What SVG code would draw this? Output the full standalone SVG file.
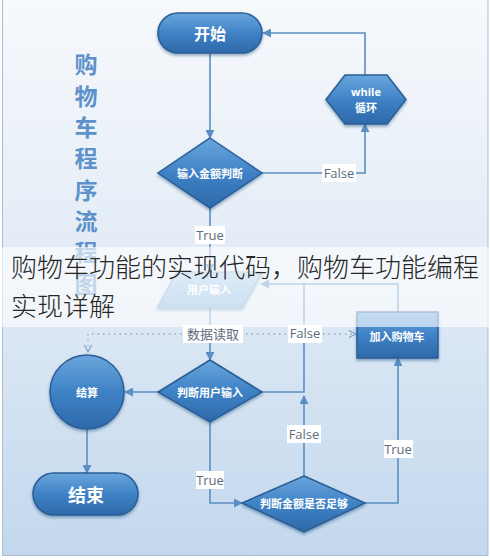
<svg xmlns="http://www.w3.org/2000/svg" width="490" height="560" viewBox="0 0 490 560">
<defs>
<linearGradient id="bg" x1="0" y1="0" x2="0" y2="1">
<stop offset="0" stop-color="#f7f9fc"/>
<stop offset="0.45" stop-color="#e3ecf6"/>
<stop offset="1" stop-color="#c3d8ee"/>
</linearGradient>
<linearGradient id="nodeFill" x1="0" y1="0" x2="0" y2="1">
<stop offset="0" stop-color="#6aa6dc"/>
<stop offset="0.5" stop-color="#3f82c6"/>
<stop offset="1" stop-color="#2d69a9"/>
</linearGradient>
<linearGradient id="paraFill" x1="0" y1="0" x2="0" y2="1">
<stop offset="0" stop-color="#a9cbea"/>
<stop offset="1" stop-color="#7aaedd"/>
</linearGradient>
<filter id="sh" x="-20%" y="-20%" width="140%" height="150%">
<feDropShadow dx="0" dy="2" stdDeviation="1.5" flood-color="#1f4a78" flood-opacity="0.45"/>
</filter>
<marker id="arr" viewBox="0 0 10 10" refX="9" refY="5" markerWidth="9" markerHeight="9" markerUnits="userSpaceOnUse" orient="auto">
<path d="M0 0 L10 5 L0 10 Z" fill="#5b8fc4"/>
</marker>
<marker id="chev" viewBox="0 0 10 10" refX="9" refY="5" markerWidth="9" markerHeight="9" markerUnits="userSpaceOnUse" orient="auto-start-reverse">
<path d="M1 1 L9 5 L1 9" fill="none" stroke="#7fa3c8" stroke-width="1.3"/>
</marker>
</defs>
<style>
.node{fill:url(#nodeFill);stroke:#2a5e96;stroke-width:1.5;filter:url(#sh)}
.ntxt{font-family:"Noto Sans CJK SC","Noto Sans",sans-serif;fill:#ffffff;text-anchor:middle;dominant-baseline:central;font-weight:bold}
.con{fill:none;stroke:#5b8fc4;stroke-width:1.6}
.dot{fill:none;stroke:#8fa9c4;stroke-width:1.3;stroke-dasharray:1.5 4}
.lbg{fill:#ffffff}
.ltxt{font-family:"Open Sans","Noto Sans CJK SC",sans-serif;font-size:13px;fill:#5c6b7a;text-anchor:middle;dominant-baseline:central}
.title{font-family:"Noto Sans CJK SC",sans-serif;font-size:23px;font-weight:bold;fill:#5c91c9;text-anchor:middle;dominant-baseline:central}
.ban{font-family:"Noto Sans CJK SC",sans-serif;font-size:26px;font-weight:300;fill:#262626}
</style>
<rect x="0" y="0" width="490" height="560" fill="#ffffff"/>
<rect x="2.5" y="-2" width="485.5" height="557.5" fill="url(#bg)" stroke="#a9bdd3" stroke-width="1"/>
<g id="title">
<text class="title" x="86" y="63">购</text>
<text class="title" x="86" y="95">物</text>
<text class="title" x="86" y="126">车</text>
<text class="title" x="86" y="157">程</text>
<text class="title" x="86" y="189">序</text>
<text class="title" x="86" y="220">流</text>
<text class="title" x="86" y="251">程</text>
<text class="title" x="86" y="283">图</text>
</g>
<g id="connectors">
<path class="con" d="M210 53 V138" marker-end="url(#arr)"/>
<path class="con" d="M262 173 H365 V124" marker-end="url(#arr)"/>
<path class="con" d="M365 75 V33 H263" marker-end="url(#arr)"/>
<path class="con" d="M210 208 V272" marker-end="url(#arr)"/>
<path class="con" d="M210 308 V360" marker-end="url(#arr)"/>
<path class="con" d="M158 392 H125" marker-end="url(#arr)"/>
<path class="con" d="M87 429 V473" marker-end="url(#arr)"/>
<path class="con" d="M210 422 V503 H242" marker-end="url(#arr)"/>
<path class="con" d="M304 476 V396" marker-end="url(#arr)"/>
<path class="con" d="M262 392 H304 V284"/>
<path class="con" d="M365 503 H398 V358" marker-end="url(#arr)"/>
<path class="con" d="M398 312 V284 H261" marker-end="url(#arr)"/>
<path class="dot" d="M88 352 V334 H356" marker-start="url(#chev)" marker-end="url(#chev)"/>
<rect class="lbg" x="322" y="164" width="34" height="18"/>
<text class="ltxt" x="339" y="173">False</text>
<rect class="lbg" x="195" y="226" width="30" height="18"/>
<text class="ltxt" x="210" y="235">True</text>
<rect class="lbg" x="183" y="325" width="60" height="18"/>
<text class="ltxt" x="213" y="334">数据读取</text>
<rect class="lbg" x="288" y="325" width="34" height="18"/>
<text class="ltxt" x="305" y="333">False</text>
<rect class="lbg" x="287" y="425" width="34" height="18"/>
<text class="ltxt" x="304" y="434">False</text>
<rect class="lbg" x="384" y="440" width="29" height="18"/>
<text class="ltxt" x="398" y="449">True</text>
<rect class="lbg" x="196" y="471" width="28" height="18"/>
<text class="ltxt" x="210" y="480">True</text>
</g>
<g id="start">
<rect class="node" x="158" y="13" width="104" height="40" rx="20"/>
<text class="ntxt" x="210" y="33" font-size="16">开始</text>
</g>
<g id="judge-amount-input">
<polygon class="node" points="210,138 262,173 210,208 158,173"/>
<text class="ntxt" x="210" y="173" font-size="11">输入金额判断</text>
</g>
<g id="while-loop">
<polygon class="node" points="345,75 387,75 406,99.5 387,124 345,124 326,99.5"/>
<text class="ntxt" x="366" y="91" font-size="11" style="font-family:'Open Sans',sans-serif">while</text>
<text class="ntxt" x="366" y="107" font-size="11">循环</text>
</g>
<g id="user-input">
<polygon points="177,272 262,272 242,308 157,308" fill="url(#paraFill)" stroke="#6f9fcf" stroke-width="1.2" filter="url(#sh)"/>
<text class="ntxt" x="209" y="289" font-size="11">用户输入</text>
</g>
<g id="judge-user-input">
<polygon class="node" points="210,360 262,392 210,422 158,392"/>
<text class="ntxt" x="210" y="392" font-size="11">判断用户输入</text>
</g>
<g id="checkout">
<circle class="node" cx="87" cy="392" r="37"/>
<text class="ntxt" x="87" y="392" font-size="11">结算</text>
</g>
<g id="end">
<rect class="node" x="33" y="473" width="105" height="42" rx="21"/>
<text class="ntxt" x="86" y="494" font-size="18">结束</text>
</g>
<g id="judge-enough">
<polygon class="node" points="304,476 365,503 304,532 242,503"/>
<text class="ntxt" x="304" y="503" font-size="11">判断金额是否足够</text>
</g>
<g id="add-cart">
<rect class="node" x="357" y="312" width="81" height="46"/>
<text class="ntxt" x="397" y="336" font-size="11">加入购物车</text>
</g>
<g id="banner">
<rect x="0" y="247" width="490" height="80" fill="#ffffff" fill-opacity="0.62"/>
<text class="ban" x="11" y="277">购物车功能的实现代码，购物车功能编程</text>
<text class="ban" x="11" y="316">实现详解</text>
</g>
</svg>
